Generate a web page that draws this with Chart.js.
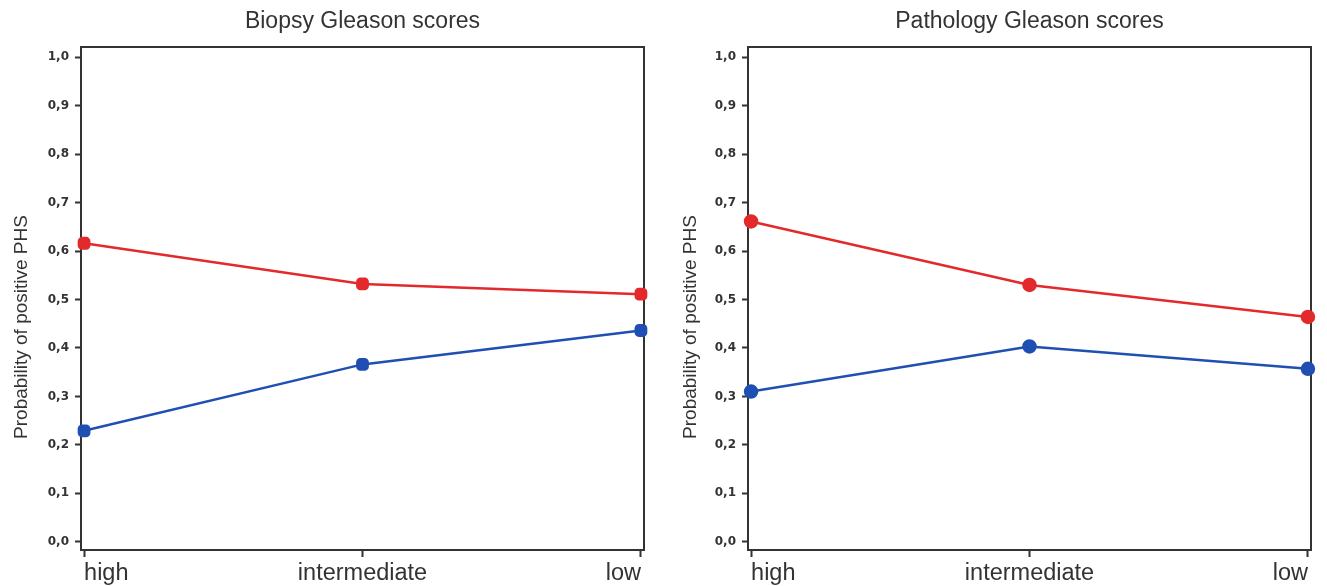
<!DOCTYPE html>
<html>
<head>
<meta charset="utf-8">
<script src="https://cdn.jsdelivr.net/npm/chart.js@4/dist/chart.umd.min.js"></script>
<style>
  body { margin: 0; background: #fff; width: 1327px; height: 586px; overflow: hidden; position: relative; }
  canvas { position: absolute; top: 0; }
  #biopsy { left: 0; }
  #pathology { left: 660px; }
</style>
</head>
<body>
<canvas id="biopsy" width="660" height="586"></canvas>
<canvas id="pathology" width="667" height="586"></canvas>
<script>
const categories = ['high', 'intermediate', 'low'];
const yTicks = [0, 0.1, 0.2, 0.3, 0.4, 0.5, 0.6, 0.7, 0.8, 0.9, 1.0];
const yTitle = 'Probability of positive PHS';

const biopsyRed = [0.616, 0.532, 0.511];
const biopsyBlue = [0.229, 0.366, 0.436];
const pathologyRed = [0.661, 0.530, 0.464];
const pathologyBlue = [0.310, 0.403, 0.357];

const red = '#e3292b';
const blue = '#1f4fb3';
const ink = '#333';

// frame round the plot area, plus the rotated y title placed like the original
const framePlugin = {
    id: 'frame',
    beforeDatasetsDraw(chart, args, opts) {
        const a = chart.chartArea;
        const ctx = chart.ctx;
        ctx.save();
        ctx.strokeStyle = ink;
        ctx.lineWidth = 2;
        ctx.strokeRect(a.left, a.top, a.right - a.left, a.bottom - a.top);
        ctx.translate(opts.titleX, opts.titleY);
        ctx.rotate(-Math.PI / 2);
        ctx.fillStyle = ink;
        ctx.font = '19px "Liberation Sans", Arial, sans-serif';
        ctx.textAlign = 'center';
        ctx.textBaseline = 'middle';
        ctx.fillText(yTitle, 0, 0);
        ctx.restore();
    }
};

function makeSeries(values, color, pointStyle) {
    return {
        data: values.map((v, i) => ({ x: i, y: v })),
        borderColor: color,
        backgroundColor: color,
        borderWidth: 2.5,
        pointStyle: pointStyle,
        pointRadius: 6,
        pointHoverRadius: 6,
        clip: false
    };
}

function makeChart(id, title, redValues, blueValues, pointStyle, plotLeft, padRight, titleX) {
    const ctx = document.getElementById(id).getContext('2d');
    return new Chart(ctx, {
        type: 'line',
        data: {
            datasets: [
                makeSeries(redValues, red, pointStyle),
                makeSeries(blueValues, blue, pointStyle)
            ]
        },
        plugins: [framePlugin],
        options: {
            responsive: false,
            animation: false,
            events: [],
            layout: { padding: { left: 0, right: padRight, top: 0, bottom: 0 } },
            plugins: {
                legend: { display: false },
                tooltip: { enabled: false },
                title: {
                    display: true,
                    text: title,
                    fullSize: false,
                    color: ink,
                    font: { family: '"Liberation Sans", Arial, sans-serif', size: 23, weight: 'normal', lineHeight: 1.2 },
                    padding: { top: 8, bottom: 11.4 }
                },
                frame: { titleX: titleX, titleY: 327 }
            },
            scales: {
                x: {
                    type: 'linear',
                    min: -0.011,
                    max: 2.011,
                    afterBuildTicks: scale => { scale.ticks = categories.map((c, i) => ({ value: i })); },
                    afterFit: scale => { scale.height = 36; },
                    border: { display: false },
                    grid: { drawOnChartArea: false, drawTicks: true, tickLength: 7, tickWidth: 2, tickColor: ink },
                    ticks: {
                        align: 'inner',
                        padding: 2,
                        color: ink,
                        font: { family: '"Liberation Sans", Arial, sans-serif', size: 23.5 },
                        callback: v => categories[v]
                    }
                },
                y: {
                    min: -0.017,
                    max: 1.021,
                    afterBuildTicks: scale => { scale.ticks = yTicks.map(v => ({ value: v })); },
                    afterFit: scale => { scale.width = plotLeft; },
                    border: { display: false },
                    grid: { drawOnChartArea: false, drawTicks: true, tickLength: 6, tickWidth: 2, tickColor: ink },
                    ticks: {
                        padding: 6,
                        color: ink,
                        font: { family: '"DejaVu Sans", Verdana, sans-serif', size: 12, weight: 'bold' },
                        callback: v => v.toFixed(1).replace('.', ',')
                    }
                }
            }
        }
    });
}

makeChart('biopsy', 'Biopsy Gleason scores', biopsyRed, biopsyBlue, 'rectRounded', 81, 16, 22);
makeChart('pathology', 'Pathology Gleason scores', pathologyRed, pathologyBlue, 'circle', 88, 16, 31);
</script>
</body>
</html>
